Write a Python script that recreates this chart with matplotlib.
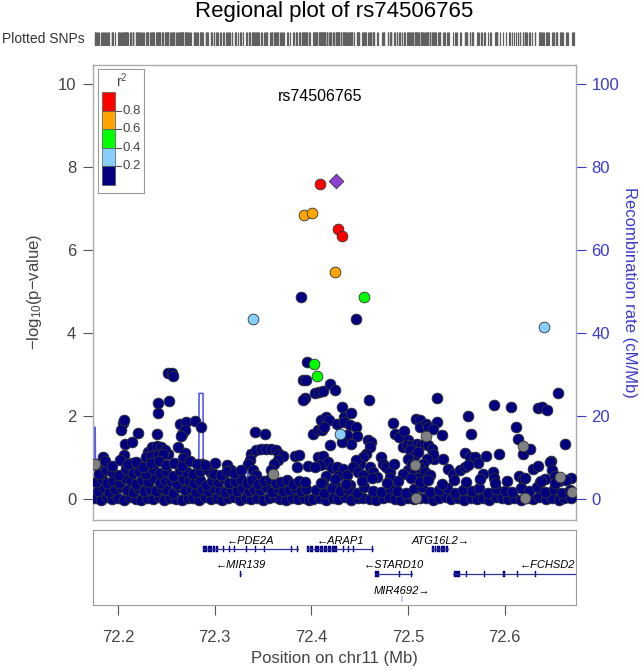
import matplotlib.pyplot as plt
from matplotlib.patches import Rectangle

plt.rcParams['font.family'] = ['Liberation Sans', 'DejaVu Sans']
plt.rcParams['mathtext.default'] = 'regular'

# ---- data -------------------------------------------------------------
lead_snp = "rs74506765"
lead_pos, lead_logp = 72.4254, 7.66

# SNPs with r2 >= 0.2 : (position Mb, -log10 p, r2)
ld_snps = [
    (72.4089, 7.59, 0.90), (72.4278, 6.50, 0.90), (72.4319, 6.33, 0.90),
    (72.3923, 6.84, 0.70), (72.4003, 6.90, 0.70), (72.4247, 5.47, 0.70),
    (72.4544, 4.88, 0.50), (72.4024, 3.25, 0.50), (72.4054, 2.98, 0.50),
    (72.3393, 4.35, 0.30), (72.6405, 4.14, 0.30), (72.4296, 1.57, 0.30),
]

# SNPs without LD information
na_snps = [
    (72.1759, 0.86), (72.3606, 0.62), (72.5185, 1.52), (72.5071, 0.82),
    (72.5082, 0.02), (72.6192, 1.28), (72.6571, 0.54), (72.6700, 0.18),
    (72.6209, 0.02),
]

# SNPs with r2 < 0.2
low_snps = [
    # left region
    (72.2052, 1.84), (72.2034, 1.66), (72.2062, 1.90), (72.2204, 1.60), (72.2072, 1.34), (72.2148, 1.37),
    (72.2406, 1.57), (72.2410, 2.32), (72.2410, 2.08), (72.2531, 2.37), (72.2517, 3.03), (72.2561, 3.04),
    (72.2569, 2.97), (72.2645, 1.81), (72.2700, 1.86), (72.2800, 1.89), (72.2662, 1.58), (72.2693, 1.66),
    (72.2855, 1.74), (72.2648, 1.52), (72.2620, 1.26), (72.2696, 1.12), (72.2672, 1.00), (72.2517, 1.08),
    (72.1845, 1.02), (72.2059, 1.06), (72.2204, 0.86), (72.2148, 0.87), (72.2086, 0.86),
    (72.2310, 1.14), (72.2355, 1.25), (72.2403, 1.28), (72.2448, 1.25), (72.2483, 1.18), (72.2293, 1.02),
    (72.2344, 1.04), (72.2414, 1.06), (72.2465, 1.10),
    (72.2865, 0.84), (72.3006, 0.87), (72.2958, 0.63), (72.3124, 0.82), (72.3172, 0.70),
    (72.3417, 1.62), (72.3520, 1.57),
    (72.3378, 1.10), (72.3427, 1.18), (72.3479, 1.22), (72.3531, 1.22), (72.3582, 1.20), (72.3634, 1.18),
    (72.3668, 1.10), (72.3703, 1.04), (72.3651, 0.94), (72.3617, 0.86), (72.3362, 0.94), (72.3344, 0.86),
    (72.3396, 0.70), (72.3427, 0.58), (72.3582, 0.70),
    (72.3830, 1.05), (72.3872, 1.06), (72.3848, 0.78), (72.3968, 0.80),
    # peak region
    (72.3896, 4.88), (72.3951, 3.31), (72.3910, 2.87), (72.3944, 2.88), (72.3934, 2.43), (72.3917, 2.40),
    (72.4037, 2.56), (72.4082, 2.58), (72.4117, 2.60), (72.4192, 2.77), (72.4244, 2.63),
    (72.4020, 1.58), (72.4070, 1.66), (72.4110, 1.66), (72.4100, 1.92), (72.4150, 1.98), (72.4185, 1.90),
    (72.4130, 1.74), (72.4065, 1.02), (72.4117, 1.04), (72.4151, 0.86), (72.4192, 1.30), (72.4175, 0.90),
    (72.4089, 0.82), (72.4037, 0.78),
    (72.4261, 1.82), (72.4313, 2.21), (72.4340, 1.98), (72.4409, 2.07), (72.4334, 1.86), (72.4396, 1.78),
    (72.4464, 1.74), (72.4368, 1.54), (72.4472, 1.52), (72.4409, 1.34), (72.4316, 1.38),
    (72.4218, 0.75), (72.4270, 0.78), (72.4330, 0.72), (72.4150, 0.55), (72.4120, 0.40), (72.4280, 0.55),
    (72.4245, 0.35), (72.4365, 0.58), (72.4400, 0.35), (72.4330, 0.25), (72.4390, 0.10),
    (72.4461, 4.34), (72.4599, 2.39),
    (72.4588, 1.42), (72.4622, 1.38), (72.4605, 1.26), (72.4571, 1.10), (72.4536, 1.02), (72.4509, 0.86),
    (72.4467, 0.94), (72.4433, 0.78), (72.4485, 0.66), (72.4536, 0.58), (72.4605, 0.78), (72.4640, 0.66),
    (72.4675, 0.54), (72.4726, 1.02), (72.4744, 0.86), (72.4778, 0.78), (72.4813, 0.66), (72.4854, 0.85),
    (72.4813, 0.50),
    # right-middle cluster
    (72.4847, 1.84), (72.4871, 1.58), (72.4905, 1.50), (72.4957, 1.65), (72.5003, 1.42), (72.4950, 1.26),
    (72.5082, 1.94), (72.5120, 1.92), (72.5130, 1.74), (72.5185, 1.82), (72.5210, 1.74), (72.5296, 1.86),
    (72.5261, 1.69), (72.5358, 1.54), (72.5271, 0.96), (72.5306, 2.43),
    (72.4990, 1.30), (72.5040, 1.30), (72.5090, 1.34), (72.5140, 1.30), (72.5175, 1.34), (72.5210, 1.30),
    (72.5245, 1.20), (72.5262, 1.08), (72.5195, 0.98), (72.5160, 0.86), (72.5020, 1.18), (72.5070, 1.06),
    (72.5000, 0.98), (72.5105, 1.14),
    (72.5000, 0.70), (72.5060, 0.62), (72.5120, 0.75), (72.5180, 0.66), (72.5230, 0.58), (72.5100, 0.52),
    (72.5040, 0.85), (72.4950, 0.60),
    # right region
    (72.5364, 0.98), (72.5410, 0.72), (72.5470, 0.60), (72.5537, 0.70), (72.5588, 0.78), (72.5596, 1.12),
    (72.5647, 1.02), (72.5699, 1.02), (72.5723, 0.88), (72.5809, 1.04), (72.5940, 1.08), (72.5622, 0.82),
    (72.5774, 0.62), (72.5881, 0.66), (72.5895, 0.50),
    (72.5623, 2.00), (72.5658, 1.57), (72.5892, 2.27), (72.6064, 2.21), (72.6347, 2.19), (72.6392, 2.22),
    (72.6440, 2.16), (72.6550, 2.55), (72.6623, 1.34), (72.6692, 0.50),
    (72.6123, 1.74), (72.6140, 1.44), (72.6192, 1.08), (72.6261, 1.22), (72.6481, 0.92),
    (72.6295, 0.74), (72.6347, 0.80), (72.6467, 0.90), (72.6491, 0.70),
    (72.6147, 0.55), (72.6192, 0.48), (72.6364, 0.42), (72.6423, 0.48), (72.6526, 0.55), (72.6560, 0.45),
    # dense band, left half
    (72.176, 0.02), (72.182, -0.03), (72.188, 0.05), (72.194, 0.00), (72.200, 0.03), (72.206, -0.02),
    (72.212, 0.06), (72.218, 0.01), (72.224, -0.03), (72.230, 0.04), (72.236, 0.00), (72.242, 0.05),
    (72.248, -0.02), (72.254, 0.03), (72.260, 0.01), (72.266, -0.03), (72.272, 0.04), (72.278, 0.02),
    (72.284, -0.01), (72.290, 0.05), (72.296, 0.00), (72.302, 0.03), (72.308, -0.02), (72.314, 0.02),
    (72.320, 0.06), (72.326, -0.01), (72.332, 0.03), (72.338, 0.00), (72.344, 0.04), (72.350, -0.02),
    (72.356, 0.02), (72.362, 0.05), (72.368, 0.00), (72.374, -0.03), (72.380, 0.03), (72.386, 0.01),
    (72.392, 0.04), (72.398, -0.02),
    (72.179, 0.20), (72.185, 0.26), (72.191, 0.18), (72.197, 0.24), (72.203, 0.30), (72.209, 0.22),
    (72.215, 0.17), (72.221, 0.28), (72.227, 0.21), (72.233, 0.25), (72.239, 0.19), (72.245, 0.27),
    (72.251, 0.23), (72.257, 0.16), (72.263, 0.29), (72.269, 0.22), (72.275, 0.26), (72.281, 0.18),
    (72.287, 0.24), (72.293, 0.20), (72.299, 0.28), (72.305, 0.23), (72.311, 0.17), (72.317, 0.25),
    (72.323, 0.21), (72.329, 0.27), (72.335, 0.19), (72.341, 0.24), (72.347, 0.22), (72.353, 0.29),
    (72.359, 0.18), (72.365, 0.26), (72.371, 0.20), (72.377, 0.23), (72.383, 0.28), (72.389, 0.21),
    (72.395, 0.25),
    (72.177, 0.42), (72.183, 0.48), (72.189, 0.38), (72.195, 0.45), (72.201, 0.40), (72.207, 0.50),
    (72.213, 0.44), (72.219, 0.36), (72.225, 0.47), (72.231, 0.41), (72.237, 0.52), (72.243, 0.39),
    (72.249, 0.46), (72.255, 0.43), (72.261, 0.37), (72.267, 0.49), (72.273, 0.44), (72.279, 0.40),
    (72.285, 0.47), (72.291, 0.35), (72.297, 0.45), (72.303, 0.41), (72.309, 0.50), (72.315, 0.38),
    (72.321, 0.43), (72.327, 0.48), (72.333, 0.40), (72.339, 0.46), (72.345, 0.36), (72.351, 0.44),
    (72.357, 0.49), (72.363, 0.39), (72.369, 0.42), (72.375, 0.47), (72.381, 0.37), (72.387, 0.45),
    (72.393, 0.41),
    (72.180, 0.62), (72.187, 0.70), (72.194, 0.66), (72.201, 0.58), (72.208, 0.72), (72.215, 0.64),
    (72.222, 0.68), (72.229, 0.60), (72.236, 0.74), (72.243, 0.63), (72.250, 0.69), (72.257, 0.57),
    (72.264, 0.71), (72.271, 0.65), (72.278, 0.60), (72.285, 0.67), (72.292, 0.73), (72.299, 0.62),
    (72.306, 0.58), (72.313, 0.68), (72.320, 0.64), (72.327, 0.70),
    (72.178, 0.86), (72.186, 0.92), (72.194, 0.80), (72.202, 0.95), (72.210, 0.84), (72.218, 0.90),
    (72.226, 0.78), (72.234, 0.88), (72.242, 0.93), (72.250, 0.82), (72.258, 0.87), (72.266, 0.79),
    (72.274, 0.91), (72.282, 0.85), (72.290, 0.83),
    # dense band, right half
    (72.402, 0.01), (72.409, 0.04), (72.415, -0.02), (72.422, 0.03), (72.428, 0.00), (72.435, 0.05),
    (72.441, -0.03), (72.448, 0.02), (72.454, 0.04), (72.461, 0.00), (72.467, -0.02), (72.474, 0.03),
    (72.480, 0.05), (72.487, 0.01), (72.493, -0.02), (72.500, 0.03), (72.506, 0.00), (72.513, 0.04),
    (72.519, 0.02), (72.526, -0.01), (72.532, 0.03), (72.539, 0.05), (72.545, 0.00), (72.552, 0.02),
    (72.558, -0.03), (72.565, 0.04), (72.571, 0.01), (72.578, 0.03), (72.584, -0.01), (72.591, 0.05),
    (72.597, 0.02), (72.604, 0.00), (72.610, 0.04), (72.617, -0.02), (72.623, 0.03), (72.630, 0.01),
    (72.636, 0.05), (72.643, 0.00), (72.649, 0.02), (72.656, -0.01), (72.662, 0.04), (72.669, 0.02),
    (72.405, 0.22), (72.413, 0.16), (72.421, 0.28), (72.430, 0.19), (72.438, 0.25), (72.447, 0.14),
    (72.455, 0.30), (72.464, 0.21), (72.472, 0.17), (72.481, 0.26), (72.489, 0.20), (72.498, 0.15),
    (72.506, 0.24), (72.515, 0.29), (72.523, 0.18), (72.532, 0.22), (72.540, 0.27), (72.549, 0.16),
    (72.557, 0.23), (72.566, 0.19), (72.574, 0.28), (72.583, 0.14), (72.591, 0.25), (72.600, 0.21),
    (72.608, 0.17), (72.617, 0.26), (72.625, 0.20), (72.634, 0.30), (72.642, 0.18), (72.651, 0.24),
    (72.659, 0.15), (72.668, 0.22),
    (72.410, 0.40), (72.425, 0.48), (72.436, 0.36), (72.452, 0.45), (72.463, 0.52), (72.478, 0.38),
    (72.490, 0.44), (72.503, 0.50), (72.512, 0.42), (72.521, 0.47), (72.535, 0.37), (72.548, 0.46),
    (72.560, 0.41), (72.575, 0.49), (72.590, 0.39), (72.603, 0.44), (72.621, 0.50), (72.638, 0.43),
    (72.652, 0.38), (72.664, 0.46),
]

# recombination rate (cM/Mb)
recomb_pos = [72.174, 72.1758, 72.1762, 72.1768, 72.200, 72.2490, 72.2496, 72.2502, 72.2835, 72.2838,
              72.2879, 72.2882, 72.3340, 72.3344, 72.3350, 72.3990, 72.4000, 72.4680, 72.4690, 72.674]
recomb_rate = [0.9, 0.9, 17.4, 1.2, 0.9, 1.0, 5.4, 1.0, 1.0, 25.5,
               25.5, 1.0, 1.0, 11.8, 1.2, 1.2, 0.55, 0.55, 0.2, 0.2]

# genes
gene_names = ["PDE2A", "ARAP1", "ATG16L2", "MIR139", "STARD10", "FCHSD2", "MIR4692"]
gene_start = [72.2876, 72.3958, 72.5254, 72.3265, 72.4658, 72.5467, 72.4937]
gene_end = [72.3864, 72.4642, 72.5416, 72.3273, 72.5047, 72.7430, 72.4943]
gene_strand = ["-", "-", "+", "-", "-", "-", "+"]
gene_row = [0, 0, 0, 1, 1, 1, 2]
gene_exons = [
    [(72.2876, 72.2925), (72.2930, 72.2975), (72.2985, 72.3005), (72.3012, 72.3036), (72.3084, 72.3094),
     (72.3153, 72.3163), (72.3195, 72.3205), (72.3326, 72.3336), (72.3419, 72.3429), (72.3515, 72.3525),
     (72.3791, 72.3801), (72.3849, 72.3859)],
    [(72.3958, 72.3972), (72.3985, 72.4013), (72.4037, 72.4080), (72.4090, 72.4120), (72.4130, 72.4160),
     (72.4175, 72.4200), (72.4215, 72.4261), (72.4325, 72.4335), (72.4377, 72.4387), (72.4428, 72.4438),
     (72.4632, 72.4642)],
    [(72.5254, 72.5268), (72.5278, 72.5292), (72.5302, 72.5330), (72.5340, 72.5380), (72.5390, 72.5416)],
    [(72.3265, 72.3273)],
    [(72.4658, 72.4702), (72.4911, 72.4921), (72.5032, 72.5042)],
    [(72.5475, 72.5544), (72.5601, 72.5611), (72.5790, 72.5800), (72.5980, 72.5990), (72.5997, 72.6007),
     (72.6128, 72.6138), (72.6317, 72.6327)],
    [(72.4937, 72.4943)],
]

x_ticks = [72.2, 72.3, 72.4, 72.5, 72.6]
r2_bins = [0.2, 0.4, 0.6, 0.8]
r2_colors = ["#000080", "#87CEFA", "#00FF00", "#FFA500", "#FF0000"]

# ---- layout helpers ---------------------------------------------------
W, H = 642, 670
XLIM = (72.174, 72.674)


def px_box(x0, y0, x1, y1):
    return [x0 / W, 1 - y1 / H, (x1 - x0) / W, (y1 - y0) / H]


def r2_color(r2):
    for b, c in zip(r2_bins, r2_colors):
        if r2 < b:
            return c
    return r2_colors[-1]


fig = plt.figure(figsize=(W / 100, H / 100), dpi=100)

# ---- main panel ---------------------------------------------------------
ax = fig.add_axes(px_box(93, 65, 576, 520))
ax2 = ax.twinx()
ax.set_zorder(ax2.get_zorder() + 1)
ax.patch.set_visible(False)

ax2.plot(recomb_pos, recomb_rate, color="#3c3cf0", lw=1.2, alpha=0.85)
ax2.set_ylim(-5.0, 104.6)
ax2.set_yticks(range(0, 101, 20))
ax2.tick_params(axis="y", direction="out", length=7, width=0.8, colors="#3a3acc",
                labelsize=12, pad=4)
for s in ax2.spines.values():
    s.set_visible(False)

edge = "#333333"
msize = 60
lx, ly = zip(*low_snps)
ax.scatter(lx, ly, s=msize, c=r2_colors[0], edgecolors=edge, linewidths=0.6, zorder=3)
nx, ny = zip(*na_snps)
ax.scatter(nx, ny, s=msize, c="#808080", edgecolors=edge, linewidths=0.6, zorder=3)
for p, l, r2 in ld_snps:
    ax.scatter(p, l, s=msize, c=r2_color(r2), edgecolors=edge, linewidths=0.6, zorder=4)
ax.scatter(lead_pos, lead_logp, s=55, marker="D", c="#8c3fd0", edgecolors=edge,
           linewidths=0.6, zorder=5)
ax.text(72.4089, 9.69, lead_snp, ha="center", va="center", fontsize=11.5, color="black")

ax.set_xlim(*XLIM)
ax.set_ylim(-0.5, 10.46)
ax.set_xticks([])
ax.set_yticks(range(0, 11, 2))
ax.tick_params(axis="y", direction="out", length=7, width=0.8, colors="#555555",
               labelsize=12, pad=5, labelcolor="#444444")
for s in ax.spines.values():
    s.set_color("#aaaaaa")
    s.set_linewidth(1.0)

# ---- legend -------------------------------------------------------------
lg = fig.add_axes(px_box(98, 69, 144, 193))
lg.set_xlim(0, 46)
lg.set_ylim(124, 0)
lg.set_xticks([])
lg.set_yticks([])
for s in lg.spines.values():
    s.set_color("#999999")
for i, c in enumerate(reversed(r2_colors)):
    lg.add_patch(Rectangle((3.7, 23 + i * 18.6), 13.3, 18.6, facecolor=c, edgecolor="#555555", lw=0.5))
for i, b in enumerate(reversed(r2_bins)):
    yy = 23 + (i + 1) * 18.6
    lg.plot([17, 23], [yy, yy], color="#555555", lw=0.8)
    lg.text(25, yy, f"{b:.1f}", ha="left", va="center", fontsize=9.5, color="#444444")
lg.text(24, 12, "r$^2$", ha="center", va="center", fontsize=10, color="#444444")

# ---- plotted SNPs rug -----------------------------------------------------
rug = fig.add_axes(px_box(93, 32, 578, 46))
all_pos = list(lx) + list(nx) + [p for p, _, _ in ld_snps] + [lead_pos]
rug.vlines(all_pos, 0, 1, color="#606060", lw=0.9)
rug.set_xlim(*XLIM)
rug.set_ylim(0, 1)
rug.axis("off")
fig.text(2 / W, 1 - 39 / H, "Plotted SNPs", ha="left", va="center", fontsize=10, color="#333333")

# ---- gene panel ---------------------------------------------------------
gx = fig.add_axes(px_box(93, 530, 576, 605))
gx.set_xlim(*XLIM)
gx.set_ylim(75, 0)
row_y = [19, 44, 69]
for name, st, en, strand, row, exons in zip(gene_names, gene_start, gene_end,
                                             gene_strand, gene_row, gene_exons):
    y = row_y[row]
    gx.plot([st, en], [y, y], color="#3030a0", lw=0.9)
    for a, b in exons:
        gx.add_patch(Rectangle((a, y - 2.6), b - a, 5.2, facecolor="#000080",
                               edgecolor="#000080", lw=0.3))
    label = ("\u2190" + name) if strand == "-" else (name + "\u2192")
    gx.text((st + en) / 2, y - 8.5, label, ha="center", va="center", fontsize=8,
            style="italic", color="black")
gx.set_yticks([])
gx.set_xticks(x_ticks)
gx.set_xticklabels([f"{t:.1f}" for t in x_ticks])
gx.tick_params(axis="x", direction="out", length=7, width=0.8, colors="#555555",
               labelsize=12, pad=11, labelcolor="#444444")
for s in gx.spines.values():
    s.set_color("#999999")

# ---- labels -------------------------------------------------------------
fig.text(334.5 / W, 1 - 12 / H, "Regional plot of " + lead_snp, ha="center", va="center",
         fontsize=16, color="black")
fig.text(334.5 / W, 1 - 659 / H, "Position on chr11 (Mb)", ha="center", va="center",
         fontsize=12, color="#444444")
fig.text(35 / W, 1 - 292 / H, "$-$log$_{10}$(p$-$value)", ha="center", va="center",
         rotation=90, fontsize=12, color="#444444")
fig.text(630 / W, 1 - 292 / H, "Recombination rate (cM/Mb)", ha="center", va="center",
         rotation=270, fontsize=12, color="#3a3acc")

fig.savefig("out.png", dpi=100)
